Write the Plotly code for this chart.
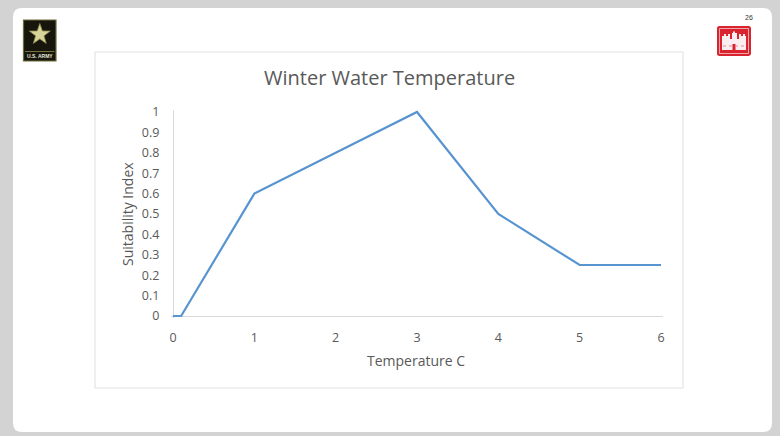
import math
import plotly.graph_objects as go

# ---- data -------------------------------------------------------------
temperature_c = [0, 0.1, 1, 2, 3, 4, 5, 6]
suitability_index = [0, 0, 0.6, 0.8, 1.0, 0.5, 0.25, 0.25]

x_tick_values = [0, 1, 2, 3, 4, 5, 6]
x_tick_labels = ["0", "1", "2", "3", "4", "5", "6"]
y_tick_values = [0, 0.1, 0.2, 0.3, 0.4, 0.5, 0.6, 0.7, 0.8, 0.9, 1.0]
y_tick_labels = ["0", "0.1", "0.2", "0.3", "0.4", "0.5", "0.6", "0.7", "0.8", "0.9", "1"]

chart_title = "Winter Water Temperature"
x_title = "Temperature C"
y_title = "Suitability Index"
page_number = "26"

# ---- page geometry (pixels) --------------------------------------------
W, H = 780, 436
TEXT = "#595959"
FONT = "Open Sans"


def px(x):
    return x / W


def py(y):
    return 1 - y / H


def path_from_pixels(points, close=True):
    parts = []
    for cmd, coords in points:
        vals = []
        for j in range(0, len(coords), 2):
            vals.append(f"{px(coords[j]):.5f},{py(coords[j + 1]):.5f}")
        parts.append(cmd + " " + " ".join(vals))
    return " ".join(parts) + (" Z" if close else "")


def rounded_rect(x0, y0, x1, y1, r):
    return path_from_pixels([
        ("M", (x0 + r, y0)),
        ("L", (x1 - r, y0)),
        ("Q", (x1, y0, x1, y0 + r)),
        ("L", (x1, y1 - r)),
        ("Q", (x1, y1, x1 - r, y1)),
        ("L", (x0 + r, y1)),
        ("Q", (x0, y1, x0, y1 - r)),
        ("L", (x0, y0 + r)),
        ("Q", (x0, y0, x0 + r, y0)),
    ])


def star_path(cx, cy, r_out, r_in):
    pts = []
    for k in range(10):
        ang = -math.pi / 2 + k * math.pi / 5
        r = r_out if k % 2 == 0 else r_in
        pts.append(("M" if k == 0 else "L", (cx + r * math.cos(ang), cy + r * math.sin(ang))))
    return path_from_pixels(pts)


# plot area placement: x 0 -> 173px, 6 -> 661px ; y 0 -> 316px, 1 -> 112px
X0_PX, X6_PX = 173, 661
Y0_PX, Y1_PX = 316, 112
x_unit = (X6_PX - X0_PX) / 6
y_unit = (Y0_PX - Y1_PX) / 1
XPAD, YPAD = 0.02, 0.012

fig = go.Figure()
fig.add_trace(go.Scatter(
    x=temperature_c, y=suitability_index, mode="lines",
    line=dict(color="#5794d0", width=2.2),
    hoverinfo="x+y", showlegend=False,
))

shapes = []
# slide card
shapes.append(dict(type="path", xref="paper", yref="paper",
                   path=rounded_rect(13, 8, 772, 432, 9),
                   fillcolor="white", line=dict(width=0), layer="below"))
# chart panel
shapes.append(dict(type="rect", xref="paper", yref="paper",
                   x0=px(95), x1=px(683), y0=py(388), y1=py(52),
                   fillcolor="white", line=dict(color="#e0e0e0", width=1), layer="below"))

# army emblem
shapes.append(dict(type="rect", xref="paper", yref="paper",
                   x0=px(23.5), x1=px(56), y0=py(61), y1=py(20),
                   fillcolor="#16160c", line=dict(color="#6e6b3c", width=1.2)))
shapes.append(dict(type="path", xref="paper", yref="paper",
                   path=star_path(39.8, 34.5, 11, 4.4),
                   fillcolor="#d9d49a", line=dict(color="#8f8a4e", width=0.8)))
shapes.append(dict(type="line", xref="paper", yref="paper",
                   x0=px(25), x1=px(54.5), y0=py(51.5), y1=py(51.5),
                   line=dict(color="#8f8a4e", width=0.8)))

# engineer castle emblem
shapes.append(dict(type="path", xref="paper", yref="paper",
                   path=rounded_rect(717, 26, 751, 56, 2.5),
                   fillcolor="#d9232f", line=dict(width=0)))
shapes.append(dict(type="rect", xref="paper", yref="paper",
                   x0=px(719.5), x1=px(748.5), y0=py(53.5), y1=py(28.5),
                   fillcolor="rgba(0,0,0,0)", line=dict(color="#f6c6c9", width=0.8)))
castle = [
    ("M", (722, 50)), ("L", (722, 36)), ("L", (724, 36)), ("L", (724, 34)), ("L", (726, 34)),
    ("L", (726, 36)), ("L", (728, 36)), ("L", (728, 34)), ("L", (730, 34)), ("L", (730, 39)),
    ("L", (732, 39)), ("L", (732, 33)), ("L", (733, 33)), ("L", (733, 31.5)), ("L", (735, 31.5)),
    ("L", (735, 33)), ("L", (737, 33)), ("L", (737, 39)), ("L", (739, 39)), ("L", (739, 34)),
    ("L", (741, 34)), ("L", (741, 36)), ("L", (743, 36)), ("L", (743, 34)), ("L", (745, 34)),
    ("L", (745, 36)), ("L", (746, 36)), ("L", (746, 50)),
]
shapes.append(dict(type="path", xref="paper", yref="paper",
                   path=path_from_pixels(castle),
                   fillcolor="#fbeef0", line=dict(width=0)))
shapes.append(dict(type="rect", xref="paper", yref="paper",
                   x0=px(732.5), x1=px(735.5), y0=py(50), y1=py(44),
                   fillcolor="#d9232f", line=dict(width=0)))
shapes.append(dict(type="line", xref="paper", yref="paper",
                   x0=px(723), x1=px(745), y0=py(46), y1=py(46),
                   line=dict(color="#e88a92", width=1, dash="dot")))

annotations = [
    dict(text=chart_title, x=px(389), y=py(77), xref="paper", yref="paper",
         showarrow=False, xanchor="center", yanchor="middle",
         font=dict(family=FONT, size=20, color=TEXT)),
    dict(text=x_title, x=px(416), y=py(360), xref="paper", yref="paper",
         showarrow=False, xanchor="center", yanchor="middle",
         font=dict(family=FONT, size=14, color=TEXT)),
    dict(text=y_title, x=px(127), y=py(214), xref="paper", yref="paper",
         showarrow=False, xanchor="center", yanchor="middle", textangle=-90,
         font=dict(family=FONT, size=14, color=TEXT)),
    dict(text=page_number, x=px(749), y=py(18), xref="paper", yref="paper",
         showarrow=False, xanchor="center", yanchor="middle",
         font=dict(family="Liberation Sans", size=7, color="#333333")),
    dict(text="<b>U.S. ARMY</b>", x=px(39.8), y=py(56.5), xref="paper", yref="paper",
         showarrow=False, xanchor="center", yanchor="middle",
         font=dict(family="Liberation Sans", size=5, color="#e6e6d8")),
]

fig.update_layout(
    width=W, height=H, autosize=False,
    margin=dict(l=0, r=0, t=0, b=0, pad=0),
    paper_bgcolor="#d3d3d3",
    plot_bgcolor="rgba(0,0,0,0)",
    shapes=shapes,
    annotations=annotations,
    xaxis=dict(
        domain=[px(X0_PX - XPAD * x_unit), px(X6_PX + XPAD * x_unit)],
        range=[-XPAD, 6 + XPAD],
        tickvals=x_tick_values, ticktext=x_tick_labels,
        showgrid=False, showline=False, automargin=False,
        zeroline=True, zerolinecolor="#d9d9d9", zerolinewidth=1,
        ticks="", ticklabelstandoff=10,
        tickfont=dict(family=FONT, size=12.5, color=TEXT),
        fixedrange=True,
    ),
    yaxis=dict(
        domain=[py(Y0_PX + YPAD * y_unit), py(Y1_PX - YPAD * y_unit)],
        range=[-YPAD, 1 + YPAD],
        tickvals=y_tick_values, ticktext=y_tick_labels,
        showgrid=False, showline=False, automargin=False,
        zeroline=True, zerolinecolor="#d9d9d9", zerolinewidth=1,
        ticks="", ticklabelstandoff=11,
        tickfont=dict(family=FONT, size=12.5, color=TEXT),
        fixedrange=True,
    ),
    showlegend=False,
)

fig.write_html("out.html")
